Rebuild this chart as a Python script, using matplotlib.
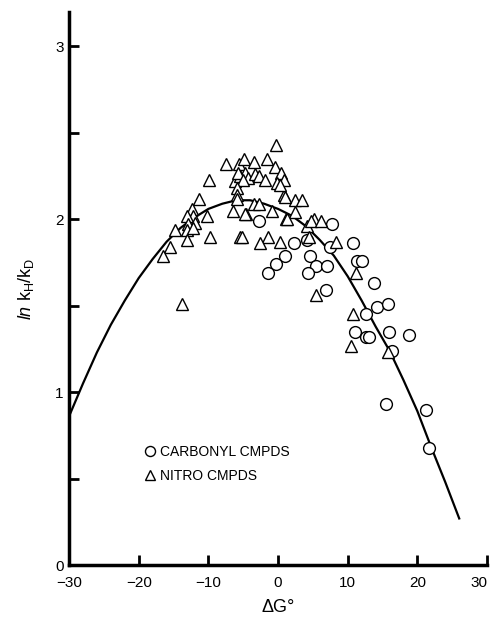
import matplotlib
matplotlib.use("Agg")
import matplotlib.pyplot as plt

plt.rcParams['font.family'] = ['Liberation Sans', 'DejaVu Sans']
plt.rcParams['mathtext.fontset'] = 'custom'
plt.rcParams['mathtext.rm'] = 'Liberation Sans'
plt.rcParams['mathtext.it'] = 'Liberation Sans:italic'

# curve (delta G, ln kH/kD)
curva_x = [-30, -28, -26, -24, -22, -20, -18, -16, -14, -12, -10, -8, -6, -4, -2, 0,
           2, 4, 6, 8, 10, 12, 14, 16, 18, 20, 22, 24, 26]
curva_y = [0.86, 1.05, 1.23, 1.39, 1.53, 1.66, 1.77, 1.87, 1.95, 2.01, 2.06, 2.09, 2.11, 2.11, 2.09, 2.06,
           2.02, 1.96, 1.88, 1.79, 1.67, 1.53, 1.38, 1.24, 1.07, 0.89, 0.68, 0.48, 0.27]

# carbonilos (circulos)
carbonyl_x = [-2.8, 7.7, 2.3, 4.1, 7.5, 10.8, 1.0, -0.3, -1.5, 4.6, 5.5, 7.0, 4.3, 11.4, 12.0,
              13.8, 6.9, 12.6, 14.2, 15.8, 11.1, 12.6, 13.1, 15.9, 18.8, 16.4, 15.5, 21.2, 21.7]
carbonyl_y = [1.99, 1.97, 1.86, 1.88, 1.84, 1.86, 1.79, 1.74, 1.69, 1.79, 1.73, 1.73, 1.69, 1.76, 1.76,
              1.63, 1.59, 1.45, 1.49, 1.51, 1.35, 1.32, 1.32, 1.35, 1.33, 1.24, 0.93, 0.90, 0.68]

# nitro (triangulos)
nitro_x = [-0.3, -7.4, -5.6, -4.9, -3.5, -1.6, -0.5, 0.4, 0.9, -0.1, -9.9, -6.2, -5.5, -4.7, -4.3,
           -3.3, -2.8, -1.9, -5.7, -5.0, -5.9, -5.9, -5.9, -11.4, 0.9, 2.4, 3.5, -3.5, -2.8, -6.4,
           -4.6, -0.9, 1.2, 2.4, -12.4, -12.2, -13.1, -10.2, -11.9, -12.9, -14.8, -13.1, -12.2, -9.8, -5.5,
           -13.1, -15.5, -16.5, -1.4, -2.6, 0.3, 5.1, 4.1, 4.5, -13.8, 0.3, 1.0, -4.7, 1.3, 4.8,
           6.2, 8.3, 11.2, 5.4, 10.8, 10.5, 15.8, -5.2]
nitro_y = [2.43, 2.32, 2.32, 2.35, 2.33, 2.35, 2.30, 2.27, 2.23, 2.21, 2.23, 2.22, 2.25, 2.27, 2.24,
           2.26, 2.25, 2.23, 2.27, 2.23, 2.18, 2.14, 2.12, 2.12, 2.14, 2.11, 2.11, 2.09, 2.09, 2.05,
           2.03, 2.05, 2.00, 2.04, 2.06, 2.02, 2.02, 2.02, 1.98, 1.97, 1.94, 1.94, 1.95, 1.90, 1.90,
           1.88, 1.84, 1.79, 1.90, 1.86, 1.87, 2.00, 1.96, 1.90, 1.51, 2.20, 2.13, 2.03, 2.00, 1.99,
           1.99, 1.87, 1.69, 1.56, 1.45, 1.27, 1.23, 1.90]

fig = plt.figure(figsize=(4.93, 6.19), dpi=100)
ax = fig.add_axes([0.140, 0.087, 0.848, 0.894])

ax.plot(curva_x, curva_y, color='black', linewidth=1.6, zorder=2)
ax.plot(carbonyl_x, carbonyl_y, linestyle='none', marker='o', markersize=8.5,
        markerfacecolor='white', markeredgecolor='black', markeredgewidth=1.0,
        label='CARBONYL CMPDS', zorder=3)
ax.plot(nitro_x, nitro_y, linestyle='none', marker='^', markersize=8,
        markerfacecolor='white', markeredgecolor='black', markeredgewidth=1.0,
        label='NITRO CMPDS', zorder=3)

ax.set_xlim(-30, 30)
ax.set_ylim(0, 3.2)
ax.set_xticks([-30, -20, -10, 0, 10, 20, 30])
ax.set_xticklabels(['\u221230', '\u221220', '\u221210', '0', '10', '20', '30'])
ax.get_xticklabels()[-1].set_horizontalalignment('right')
ax.set_yticks([0, 0.5, 1, 1.5, 2, 2.5, 3])
ax.set_yticklabels(['0', '', '1', '', '2', '', '3'])

for lado in ['top', 'right']:
    ax.spines[lado].set_visible(False)
for lado in ['left', 'bottom']:
    ax.spines[lado].set_linewidth(2.5)

ax.tick_params(axis='both', direction='in', length=7, width=2, labelsize=11)
ax.tick_params(axis='y', pad=4)
ax.tick_params(axis='x', pad=8)

ax.set_xlabel('\u0394G\u00b0', fontsize=13, labelpad=6)
ax.set_ylabel(r'$\mathit{ln}$ k$_\mathrm{H}$/k$_\mathrm{D}$', fontsize=13, labelpad=14)

leg = ax.legend(loc='upper left', bbox_to_anchor=(0.145, 0.24), frameon=False,
                fontsize=10, handletextpad=0.1, handlelength=1.2, labelspacing=0.7,
                markerscale=0.85)

fig.savefig('out.png', dpi=100)
